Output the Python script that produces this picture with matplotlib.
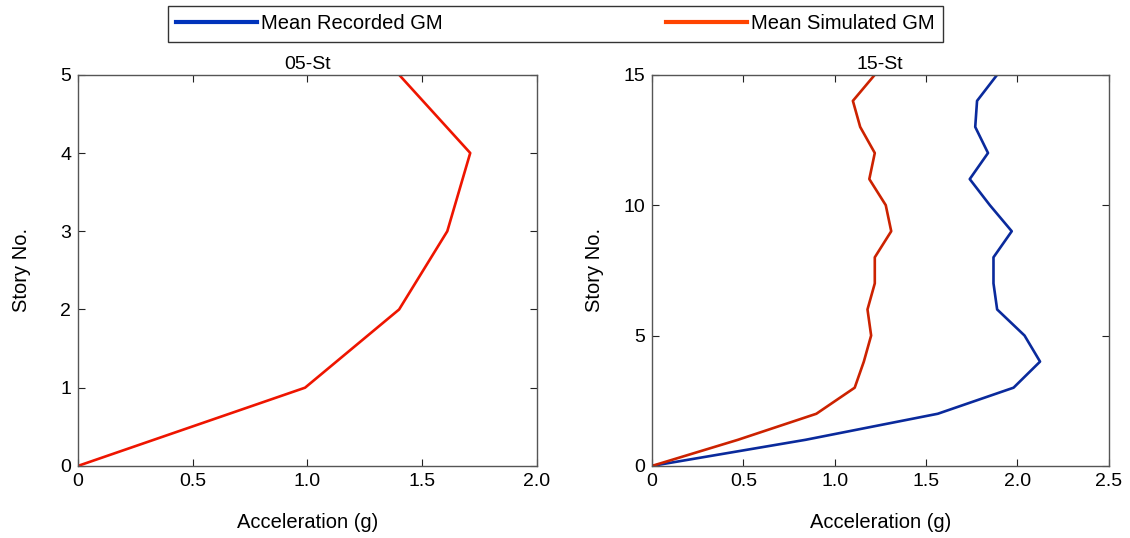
import matplotlib
matplotlib.use("Agg")
import matplotlib.pyplot as plt
from matplotlib.lines import Line2D

plt.rcParams['font.family'] = ['Liberation Sans', 'DejaVu Sans']

# 5-story building: mean peak floor acceleration per story
stories_05 = [0, 1, 2, 3, 4, 5]
sim_05 = [0.0, 0.99, 1.40, 1.61, 1.71, 1.40]

# 15-story building
stories_15 = list(range(0, 16))
rec_15 = [0.0, 0.84, 1.565, 1.98, 2.125, 2.04, 1.89, 1.87, 1.87, 1.97,
          1.85, 1.74, 1.84, 1.77, 1.78, 1.89]
sim_15 = [0.0, 0.47, 0.90, 1.11, 1.16, 1.20, 1.18, 1.22, 1.22, 1.31,
          1.28, 1.19, 1.22, 1.14, 1.10, 1.22]

BLUE = '#0a2a9c'
RED_L = '#ee1500'
RED_R = '#cc2200'
FS = 14

fig = plt.figure(figsize=(11.3, 5.38), dpi=100)
ax1 = fig.add_axes([0.069, 0.134, 0.406, 0.727])
ax2 = fig.add_axes([0.577, 0.134, 0.404, 0.727])

ax1.plot(sim_05, stories_05, color=RED_L, lw=1.9)
ax1.set_xlim(0, 2.0)
ax1.set_ylim(0, 5)
ax1.set_xticks([0, 0.5, 1.0, 1.5, 2.0])
ax1.set_xticklabels(['0', '0.5', '1.0', '1.5', '2.0'])
ax1.set_yticks(range(0, 6))
ax1.set_title('05-St', fontsize=FS, pad=4)

ax2.plot(rec_15, stories_15, color=BLUE, lw=1.9)
ax2.plot(sim_15, stories_15, color=RED_R, lw=1.9)
ax2.set_xlim(0, 2.5)
ax2.set_ylim(0, 15)
ax2.set_xticks([0, 0.5, 1.0, 1.5, 2.0, 2.5])
ax2.set_xticklabels(['0', '0.5', '1.0', '1.5', '2.0', '2.5'])
ax2.set_yticks([0, 5, 10, 15])
ax2.set_title('15-St', fontsize=FS, pad=4)

for ax in (ax1, ax2):
    ax.tick_params(direction='in', top=True, right=True, length=5,
                   labelsize=FS, color='#222222', pad=5)
    for s in ax.spines.values():
        s.set_color('#555555')
        s.set_linewidth(1.0)
    ax.set_xlabel('Acceleration (g)', fontsize=FS + 0.5)
    ax.set_ylabel('Story No.', fontsize=FS + 0.5)
    ax.xaxis.set_label_coords(0.5, -0.12)
ax1.yaxis.set_label_coords(-0.102, 0.5)
ax2.yaxis.set_label_coords(-0.105, 0.5)

handles = [Line2D([], [], color='#0033bb', lw=3),
           Line2D([], [], color='#ff4400', lw=3)]
fig.legend(handles, ['Mean Recorded GM', 'Mean Simulated GM'],
           loc='upper left', bbox_to_anchor=(0.1487, 0.9888), ncol=2,
           fontsize=FS + 0.5, handlelength=4.0, handletextpad=0.2,
           columnspacing=11.1, frameon=True, fancybox=False,
           edgecolor='black', borderpad=0.42, borderaxespad=0)

fig.savefig('out.png', dpi=100)
